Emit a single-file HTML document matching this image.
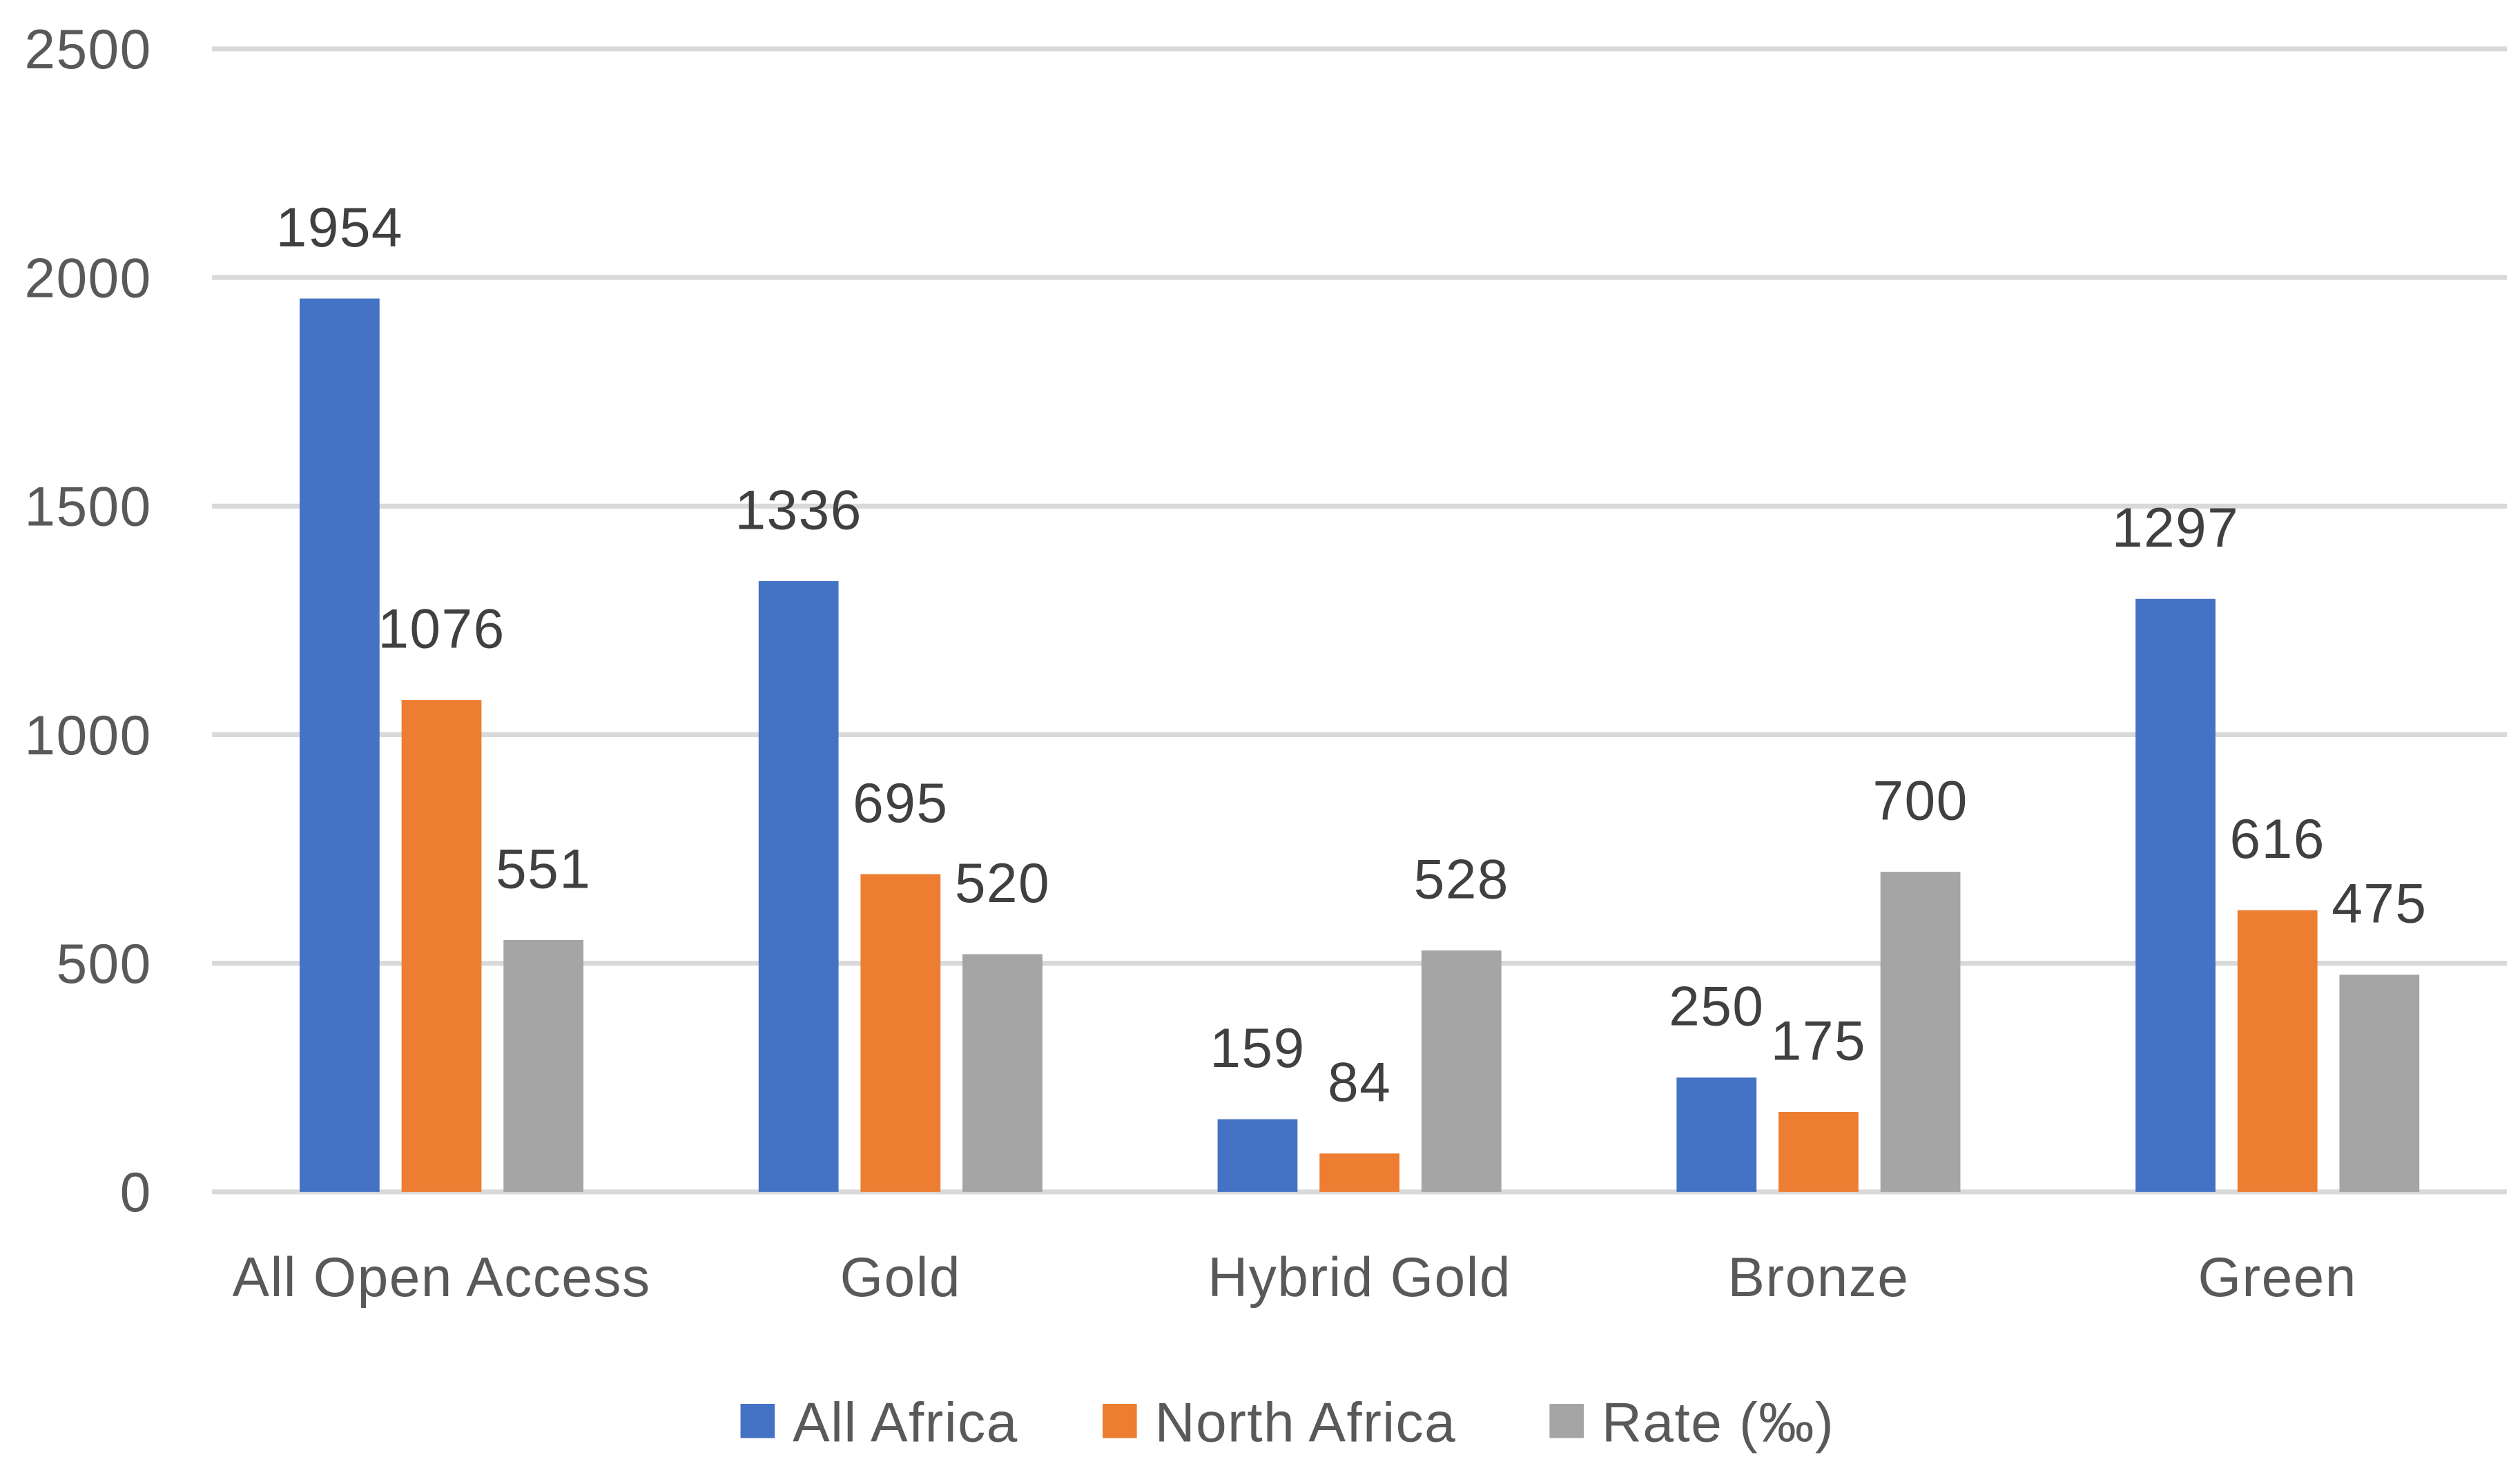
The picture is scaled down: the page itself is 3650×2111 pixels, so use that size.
<!DOCTYPE html>
<html><head><meta charset="utf-8"><style>
html,body{margin:0;padding:0;background:#fff;}
svg{display:block;font-family:"Liberation Sans","DejaVu Sans",sans-serif;}
</style></head><body>
<svg id="chart" width="3650" height="2111" viewBox="0 0 1545 893.6" preserveAspectRatio="none" xmlns="http://www.w3.org/2000/svg">
<g id="grid"></g>
<g id="yticks"></g>
<g id="bars"></g>
<g id="labels"></g>
<g id="xticks"></g>
<g id="legend"></g>
</svg>
<script>
const categories = ["All Open Access","Gold","Hybrid Gold","Bronze","Green"];
const seriesNames = ["All Africa","North Africa","Rate (‰)"];
const allAfrica = [1954,1336,159,250,1297];
const northAfrica = [1076,695,84,175,616];
const rate = [551,520,528,700,475];
const yTicks = [0,500,1000,1500,2000,2500];
const colors = ["#4472c4","#ed7d31","#a5a5a5"];
const series = [allAfrica,northAfrica,rate];

const NS="http://www.w3.org/2000/svg";
const x0=130,x1=1537,yBase=731,yTop=30,yMax=2500;
const y=v=>yBase-(v/yMax)*(yBase-yTop);
const band=(x1-x0)/categories.length;
const bw=49,step=62.5;
const FS=34, LS=0.6;
const catCenter=i=>x0+band*(i+0.5);
function mk(tag,attrs,parent,text){const e=document.createElementNS(NS,tag);for(const k in attrs)e.setAttribute(k,attrs[k]);if(text!==undefined)e.textContent=text;parent.appendChild(e);return e;}
const G=id=>document.getElementById(id);

yTicks.forEach(t=>{
  const l=mk('line',{x1:x0,x2:x1,y1:y(t),y2:y(t),stroke:'#d9d9d9','stroke-width':3},G('grid'));
  
  
  const tx=mk('text',{x:93,y:y(t)+12,'text-anchor':'end','font-size':FS,'letter-spacing':LS,fill:'#595959'},G('yticks'),String(t));
  
  
});

categories.forEach((c,i)=>{
  series.forEach((s,j)=>{
    const cx=catCenter(i)+(j-1)*step;
    const r=mk('rect',{x:cx-bw/2,y:y(s[i]),width:bw,height:yBase-y(s[i]),fill:colors[j]},G('bars'));
    
    
    const t=mk('text',{x:cx,y:y(s[i])-32,'text-anchor':'middle','font-size':FS,'letter-spacing':LS,fill:'#404040'},G('labels'),String(s[i]));
    
    
  });
  const ct=mk('text',{x:catCenter(i),y:795,'text-anchor':'middle','font-size':FS,'letter-spacing':LS,fill:'#595959'},G('xticks'),c);
  
  
});

const legX=[454,676,950];
seriesNames.forEach((n,j)=>{
  const r=mk('rect',{x:legX[j],y:861,width:21,height:21,fill:colors[j]},G('legend'));
  
  
  const t=mk('text',{x:legX[j]+32,y:884,'font-size':FS,'letter-spacing':LS,fill:'#595959'},G('legend'),n);
  
  
});
</script>
</body></html>
